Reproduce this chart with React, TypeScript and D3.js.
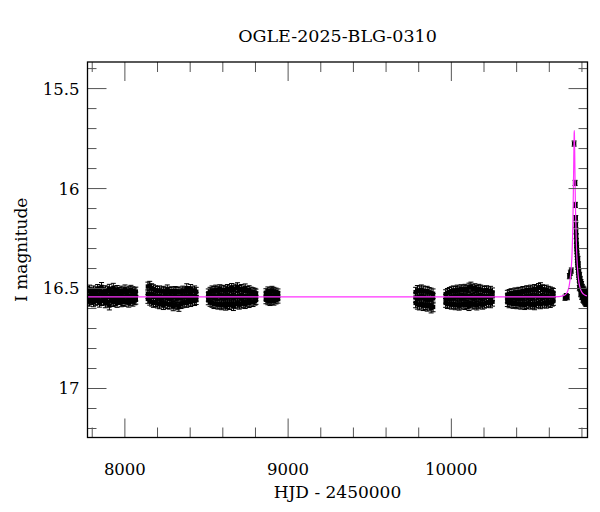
import React from 'react'
import * as d3 from 'd3'

const title = 'OGLE-2025-BLG-0310'
const xLabel = 'HJD - 2450000'
const yLabel = 'I magnitude'

const xMajorTicks = [8000, 9000, 10000]
const xTickLabels = ['8000', '9000', '10000']
const yMajorTicks = [15.5, 16, 16.5, 17]
const yTickLabels = ['15.5', '16', '16.5', '17']
const xDomain = [7771, 10834]
const yDomain = [15.367, 17.245]

// observing seasons: [HJD-2450000, I mag, I mag, I mag]
const season1 = [
  [7773, 16.512, 16.538, 16.561], [7784, 16.505, 16.541, 16.566], [7797, 16.518, 16.535, 16.558],
  [7808, 16.509, 16.544, 16.569], [7821, 16.514, 16.531, 16.562], [7833, 16.502, 16.547, 16.557],
  [7844, 16.511, 16.536, 16.571], [7857, 16.492, 16.529, 16.563], [7869, 16.516, 16.548, 16.559],
  [7880, 16.508, 16.533, 16.574], [7893, 16.513, 16.542, 16.566], [7905, 16.501, 16.537, 16.585],
  [7916, 16.519, 16.545, 16.561], [7929, 16.496, 16.532, 16.568], [7941, 16.514, 16.549, 16.563],
  [7952, 16.507, 16.536, 16.572], [7965, 16.517, 16.541, 16.558], [7977, 16.510, 16.534, 16.569],
  [7988, 16.515, 16.546, 16.563], [8001, 16.504, 16.539, 16.567], [8013, 16.518, 16.533, 16.560],
  [8024, 16.511, 16.544, 16.571], [8037, 16.506, 16.538, 16.562], [8049, 16.513, 16.547, 16.566],
  [8061, 16.519, 16.536, 16.559], [8067, 16.515, 16.540, 16.556],
]
const season2 = [
  [8141, 16.490, 16.528, 16.552], [8152, 16.486, 16.534, 16.561], [8164, 16.498, 16.527, 16.566],
  [8175, 16.503, 16.541, 16.572], [8188, 16.508, 16.536, 16.568], [8199, 16.512, 16.545, 16.575],
  [8212, 16.509, 16.538, 16.579], [8224, 16.515, 16.549, 16.571], [8236, 16.511, 16.541, 16.583],
  [8247, 16.516, 16.535, 16.574], [8260, 16.504, 16.547, 16.578], [8272, 16.517, 16.539, 16.581],
  [8283, 16.513, 16.551, 16.576], [8296, 16.518, 16.543, 16.589], [8308, 16.512, 16.537, 16.579],
  [8319, 16.516, 16.548, 16.584], [8331, 16.514, 16.541, 16.592], [8344, 16.519, 16.546, 16.578],
  [8355, 16.510, 16.539, 16.574], [8367, 16.515, 16.544, 16.569], [8379, 16.498, 16.536, 16.572],
  [8391, 16.512, 16.548, 16.565], [8403, 16.502, 16.534, 16.568], [8415, 16.514, 16.543, 16.561],
  [8427, 16.509, 16.538, 16.563], [8437, 16.516, 16.541, 16.558],
]
const season3 = [
  [8511, 16.524, 16.541, 16.559], [8522, 16.516, 16.538, 16.567], [8534, 16.509, 16.545, 16.572],
  [8546, 16.512, 16.536, 16.578], [8557, 16.505, 16.549, 16.575], [8570, 16.511, 16.540, 16.581],
  [8582, 16.503, 16.533, 16.577], [8593, 16.509, 16.546, 16.584], [8606, 16.506, 16.539, 16.579],
  [8618, 16.511, 16.548, 16.586], [8629, 16.502, 16.535, 16.578], [8641, 16.508, 16.544, 16.583],
  [8654, 16.497, 16.537, 16.576], [8665, 16.506, 16.547, 16.588], [8677, 16.500, 16.539, 16.579],
  [8690, 16.493, 16.542, 16.574], [8701, 16.507, 16.536, 16.581], [8713, 16.502, 16.545, 16.576],
  [8725, 16.509, 16.538, 16.572], [8737, 16.499, 16.543, 16.578], [8749, 16.512, 16.537, 16.569],
  [8761, 16.508, 16.546, 16.573], [8773, 16.515, 16.540, 16.566], [8785, 16.518, 16.535, 16.568],
  [8797, 16.521, 16.542, 16.561], [8803, 16.525, 16.539, 16.557],
]
const season4 = [
  [8864, 16.521, 16.538, 16.556], [8876, 16.512, 16.543, 16.561], [8889, 16.516, 16.535, 16.565],
  [8901, 16.509, 16.546, 16.559], [8913, 16.514, 16.539, 16.563], [8926, 16.518, 16.541, 16.557],
  [8938, 16.522, 16.537, 16.553],
]
const season5 = [
  [9781, 16.518, 16.545, 16.572], [9792, 16.509, 16.551, 16.579], [9804, 16.512, 16.542, 16.583],
  [9816, 16.506, 16.548, 16.578], [9828, 16.511, 16.544, 16.586], [9840, 16.515, 16.553, 16.581],
  [9852, 16.513, 16.547, 16.589], [9864, 16.519, 16.551, 16.584], [9876, 16.522, 16.556, 16.598],
  [9888, 16.526, 16.549, 16.592],
]
const season6 = [
  [9965, 16.528, 16.551, 16.572], [9976, 16.522, 16.546, 16.578], [9988, 16.517, 16.553, 16.575],
  [10000, 16.513, 16.541, 16.581], [10012, 16.509, 16.548, 16.577], [10024, 16.512, 16.537, 16.584],
  [10036, 16.505, 16.545, 16.579], [10048, 16.510, 16.539, 16.586], [10060, 16.503, 16.547, 16.581],
  [10072, 16.508, 16.536, 16.576], [10084, 16.501, 16.544, 16.583], [10096, 16.506, 16.538, 16.578],
  [10108, 16.495, 16.542, 16.588], [10120, 16.490, 16.535, 16.574], [10132, 16.503, 16.546, 16.581],
  [10144, 16.498, 16.539, 16.577], [10156, 16.507, 16.543, 16.585], [10168, 16.501, 16.536, 16.579],
  [10180, 16.505, 16.547, 16.574], [10192, 16.509, 16.538, 16.581], [10204, 16.512, 16.544, 16.576],
  [10216, 16.508, 16.541, 16.572], [10228, 16.514, 16.537, 16.569], [10240, 16.511, 16.546, 16.574],
  [10252, 16.519, 16.539, 16.566],
]
const season7 = [
  [10343, 16.531, 16.549, 16.568], [10354, 16.527, 16.545, 16.574], [10366, 16.523, 16.552, 16.571],
  [10378, 16.525, 16.541, 16.577], [10390, 16.519, 16.548, 16.573], [10402, 16.521, 16.538, 16.579],
  [10414, 16.516, 16.546, 16.575], [10426, 16.518, 16.539, 16.581], [10438, 16.512, 16.547, 16.576],
  [10450, 16.514, 16.541, 16.583], [10462, 16.508, 16.536, 16.578], [10474, 16.511, 16.545, 16.574],
  [10486, 16.505, 16.538, 16.581], [10498, 16.509, 16.547, 16.577], [10510, 16.502, 16.540, 16.584],
  [10522, 16.506, 16.535, 16.576], [10534, 16.497, 16.544, 16.572], [10546, 16.493, 16.538, 16.579],
  [10558, 16.503, 16.546, 16.575], [10570, 16.507, 16.541, 16.571], [10582, 16.505, 16.537, 16.576],
  [10594, 16.511, 16.545, 16.569], [10606, 16.514, 16.539, 16.573], [10618, 16.518, 16.543, 16.566],
  [10625, 16.522, 16.540, 16.562],
]
const seasons = [season1, season2, season3, season4, season5, season6, season7]
const seasonErr = [0.022, 0.022, 0.022, 0.02, 0.024, 0.022, 0.022]

// 2025 event: [HJD-2450000, I mag]
const eventPoints = [
  [10696, 16.546], [10704, 16.538], [10711, 16.543],
  [10723, 16.438], [10729, 16.421], [10735, 16.41],
  [10752, 15.775], [10758, 15.972], [10760, 16.082], [10762, 16.148], [10763, 16.182],
  [10764, 16.215], [10765, 16.238], [10766, 16.262], [10767, 16.281], [10768, 16.296],
  [10769, 16.312], [10770, 16.327], [10771, 16.341], [10772, 16.356], [10773, 16.368],
  [10774, 16.379], [10775, 16.392], [10777, 16.405], [10778, 16.418], [10780, 16.431],
  [10781, 16.442], [10783, 16.455], [10785, 16.463], [10787, 16.474], [10789, 16.482],
  [10791, 16.491], [10793, 16.497], [10795, 16.503], [10797, 16.512], [10800, 16.509],
  [10802, 16.521], [10805, 16.518], [10807, 16.529], [10810, 16.524], [10812, 16.536],
  [10815, 16.531], [10818, 16.545], [10820, 16.528], [10823, 16.541], [10826, 16.552],
  [10828, 16.534], [10831, 16.547], [10833, 16.539],
  [10776, 16.352], [10779, 16.381], [10782, 16.415], [10786, 16.432], [10790, 16.452],
  [10794, 16.468], [10798, 16.478], [10803, 16.492], [10808, 16.501], [10813, 16.506],
  [10817, 16.515], [10822, 16.519], [10827, 16.522], [10832, 16.525],
  [10784, 16.498], [10792, 16.528], [10799, 16.542], [10806, 16.556], [10811, 16.561],
  [10816, 16.568], [10821, 16.573], [10825, 16.577], [10830, 16.571],
]
const eventErr = 0.013

// microlensing model curve
const model = [
  [7771, 16.542], [10600, 16.542], [10660, 16.540], [10690, 16.535], [10705, 16.525],
  [10715, 16.508], [10722, 16.485], [10728, 16.45], [10733, 16.41], [10738, 16.35],
  [10742, 16.26], [10745, 16.15], [10748, 15.98], [10750, 15.85], [10752, 15.73],
  [10753, 15.71], [10754, 15.73], [10756, 15.84], [10758, 15.97], [10760, 16.08],
  [10763, 16.19], [10766, 16.28], [10770, 16.36], [10775, 16.42], [10781, 16.467],
  [10788, 16.495], [10797, 16.515], [10808, 16.527], [10820, 16.534], [10834, 16.537],
]

const margin = { left: 87.5, top: 62 }
const width = 500
const height = 375.5
const font = '"DejaVu Serif", serif'

const ErrPoint = ({ cx, cy, lo, hi }: { cx: number; cy: number; lo: number; hi: number }) => (
  <g>
    <line x1={cx} x2={cx} y1={lo} y2={hi} stroke="#000" strokeWidth={1} />
    <line x1={cx - 2.5} x2={cx + 2.5} y1={lo} y2={lo} stroke="#000" strokeWidth={1} />
    <line x1={cx - 2.5} x2={cx + 2.5} y1={hi} y2={hi} stroke="#000" strokeWidth={1} />
    <rect x={cx - 2.2} y={cy - 2.2} width={4.4} height={4.4} fill="#000" />
  </g>
)

const App = () => {
  const x = d3.scaleLinear().domain(xDomain).range([0, width])
  const y = d3.scaleLinear().domain(yDomain).range([0, height])

  const xMinor = d3.range(7800, 10801, 200)
  const yMinor = d3.range(15.4, 17.21, 0.1)

  const line = d3.line<number[]>()
    .x(d => x(d[0]))
    .y(d => y(d[1]))
    .curve(d3.curveMonotoneX)

  return (
    <svg width={600} height={512} style={{ position: 'absolute', left: 0, top: 0, background: '#fff' }}>
      <defs>
        <clipPath id="plot">
          <rect x={0} y={0} width={width} height={height} />
        </clipPath>
      </defs>
      <text x={margin.left + width / 2} y={42} textAnchor="middle" fontFamily={font} fontSize={17.5}>{title}</text>
      <g transform={`translate(${margin.left},${margin.top})`}>
        <g clipPath="url(#plot)">
          {seasons.map((s, si) => s.map((row, ri) => row.slice(1).map((m, mi) => (
            <ErrPoint key={`${si}-${ri}-${mi}`} cx={x(row[0])} cy={y(m)}
              lo={y(m - seasonErr[si])} hi={y(m + seasonErr[si])} />
          ))))}
          {eventPoints.map((d, i) => (
            <ErrPoint key={`e${i}`} cx={x(d[0])} cy={y(d[1])} lo={y(d[1] - eventErr)} hi={y(d[1] + eventErr)} />
          ))}
          <path d={line(model) ?? ''} fill="none" stroke="#ff33ff" strokeWidth={1.2} />
        </g>
        {xMinor.map(t => {
          const major = xMajorTicks.includes(t)
          const len = major ? 19 : 10
          return (
            <g key={`xt${t}`} stroke="#555" strokeWidth={1}>
              <line x1={x(t)} x2={x(t)} y1={height} y2={height - len} />
              <line x1={x(t)} x2={x(t)} y1={0} y2={len} />
            </g>
          )
        })}
        {yMinor.map(t => {
          const major = yMajorTicks.some(v => Math.abs(v - t) < 1e-6)
          const len = major ? 19 : 9
          return (
            <g key={`yt${t}`} stroke="#555" strokeWidth={1}>
              <line x1={0} x2={len} y1={y(t)} y2={y(t)} />
              <line x1={width} x2={width - len} y1={y(t)} y2={y(t)} />
            </g>
          )
        })}
        <rect x={0} y={0} width={width} height={height} fill="none" stroke="#000" strokeWidth={1.3} />
        {xMajorTicks.map((t, i) => (
          <text key={`xl${t}`} x={x(t)} y={height + 37} textAnchor="middle" fontFamily={font} fontSize={16.5}>{xTickLabels[i]}</text>
        ))}
        {yMajorTicks.map((t, i) => (
          <text key={`yl${t}`} x={-8} y={y(t)} dy="0.36em" textAnchor="end" fontFamily={font} fontSize={16.5}>{yTickLabels[i]}</text>
        ))}
        <text x={width / 2} y={height + 60} textAnchor="middle" fontFamily={font} fontSize={17}>{xLabel}</text>
        <text transform={`translate(${-61},${height / 2}) rotate(-90)`} textAnchor="middle" fontFamily={font} fontSize={17}>{yLabel}</text>
      </g>
    </svg>
  )
}

export default App
